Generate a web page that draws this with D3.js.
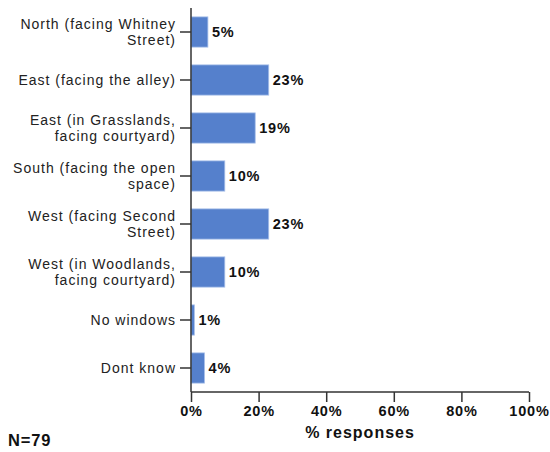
<!DOCTYPE html>
<html>
<head>
<meta charset="utf-8">
<script src="https://cdn.jsdelivr.net/npm/d3@7"></script>
<style>
  html, body { margin: 0; padding: 0; background: #fff; }
  svg { display: block; font-family: "Liberation Sans", Arial, sans-serif; }
</style>
</head>
<body>
<svg id="chart" width="550" height="452"></svg>
<script>
const categories = [
  ["North (facing Whitney", "Street)"],
  ["East (facing the alley)"],
  ["East (in Grasslands,", "facing courtyard)"],
  ["South (facing the open", "space)"],
  ["West (facing Second", "Street)"],
  ["West (in Woodlands,", "facing courtyard)"],
  ["No windows"],
  ["Dont know"]
];
const values = [5, 23, 19, 10, 23, 10, 1, 4];
const valueLabels = ["5%", "23%", "19%", "10%", "23%", "10%", "1%", "4%"];
const xTicks = [0, 20, 40, 60, 80, 100];
const xTickLabels = ["0%", "20%", "40%", "60%", "80%", "100%"];
const xTitle = "% responses";
const note = "N=79";

(function () {
const svg = d3.select("#chart");
const mLeft = 191, mRight = 529, mTop = 8, mBottom = 392;

const idx = d3.range(categories.length);
const x = d3.scaleLinear().domain([0, 100]).range([mLeft, mRight]);
const y = d3.scaleBand().domain(idx).range([mTop, mBottom]).paddingInner(0.37).paddingOuter(0.185);

// bars
svg.append("g").selectAll("rect").data(idx).join("rect")
  .attr("x", x(0))
  .attr("y", i => y(i))
  .attr("width", i => x(values[i]) - x(0))
  .attr("height", y.bandwidth())
  .attr("fill", "#5580cc")
  .attr("stroke", "#a9c0ea")
  .attr("stroke-width", 0.8);

// value labels
svg.append("g").selectAll("text").data(idx).join("text")
  .attr("x", i => x(values[i]) + 4)
  .attr("y", i => y(i) + y.bandwidth() / 2)
  .attr("dy", "0.36em")
  .attr("font-size", 14.5)
  .attr("letter-spacing", 0.8)
  .attr("font-weight", "bold")
  .attr("fill", "#111")
  .text(i => valueLabels[i]);

// y axis
const yAxis = d3.axisLeft(y).tickSize(11).tickFormat("");
const gy = svg.append("g").attr("transform", `translate(${mLeft},0)`).call(yAxis);
gy.select(".domain").attr("d", `M0,${mTop}V${mBottom}`).attr("stroke", "#333").attr("stroke-width", 1.5);
gy.selectAll(".tick line").attr("stroke", "#333").attr("stroke-width", 1.5);

// category labels
const catG = svg.append("g");
idx.forEach(i => {
  const lines = categories[i];
  const cy = y(i) + y.bandwidth() / 2;
  const lh = 16.5;
  const t = catG.append("text")
    .attr("text-anchor", "end")
    .attr("font-size", 14)
    .attr("letter-spacing", 1)
    .attr("fill", "#222");
  lines.forEach((ln, k) => {
    t.append("tspan")
      .attr("x", 176)
      .attr("y", cy + (k - (lines.length - 1) / 2) * lh)
      .attr("dy", "0.35em")
      .text(ln);
  });
});

// x axis
const xAxis = d3.axisBottom(x).tickValues(xTicks).tickSize(10).tickFormat((d, i) => xTickLabels[i]);
const gx = svg.append("g").attr("transform", `translate(0,${mBottom})`).call(xAxis);
gx.select(".domain").attr("d", `M${mLeft},0H${mRight}`).attr("stroke", "#333").attr("stroke-width", 1.5);
gx.selectAll(".tick line").attr("stroke", "#333").attr("stroke-width", 1.5);
gx.selectAll(".tick text")
  .attr("y", 14)
  .attr("dy", "0.71em")
  .attr("font-size", 14.5)
  .attr("letter-spacing", 0.8)
  .attr("font-weight", "bold")
  .attr("fill", "#111")
  .attr("font-family", "'Liberation Sans', Arial, sans-serif");

svg.append("text")
  .attr("x", (mLeft + mRight) / 2)
  .attr("y", 438)
  .attr("text-anchor", "middle")
  .attr("font-size", 16)
  .attr("letter-spacing", 1)
  .attr("font-weight", "bold")
  .attr("fill", "#111")
  .text(xTitle);

svg.append("text")
  .attr("x", 8)
  .attr("y", 446)
  .attr("font-size", 16.5)
  .attr("letter-spacing", 0.8)
  .attr("font-weight", "bold")
  .attr("fill", "#111")
  .text(note);
})();
</script>
</body>
</html>
